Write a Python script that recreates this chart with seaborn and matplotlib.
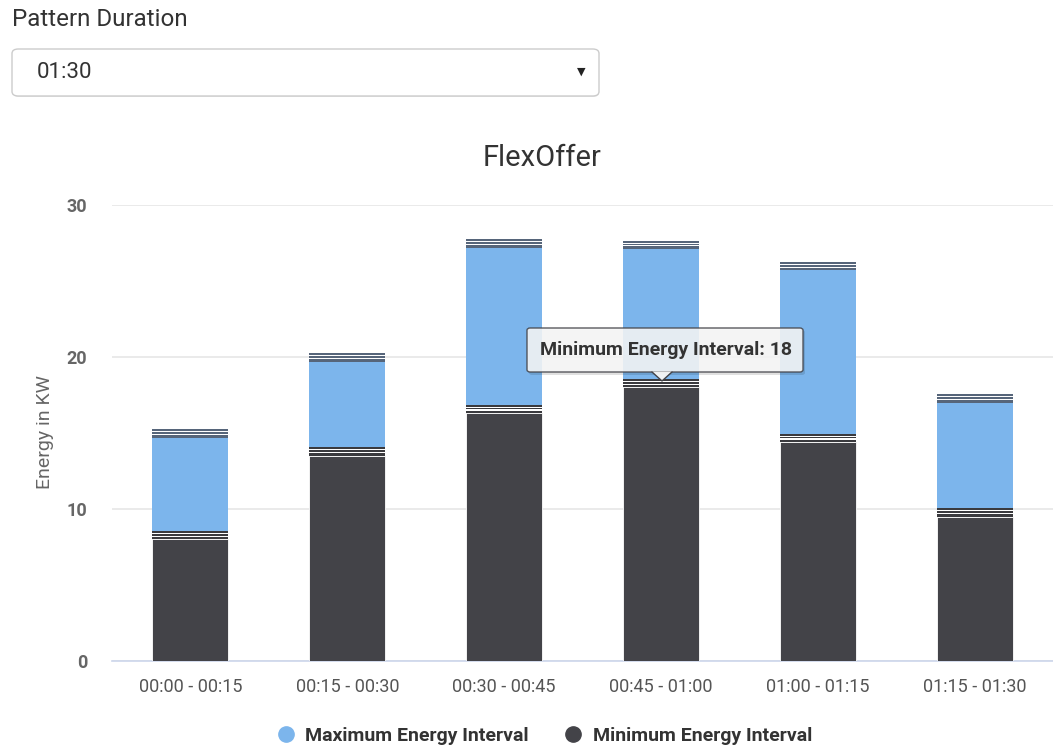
import matplotlib
matplotlib.use("Agg")
import matplotlib.pyplot as plt
import seaborn as sns
import numpy as np
import pandas as pd
from matplotlib.patches import FancyBboxPatch, Polygon
from matplotlib.lines import Line2D

# ---------------- data ----------------
categories = ["00:00 - 00:15", "00:15 - 00:30", "00:30 - 00:45",
              "00:45 - 01:00", "01:00 - 01:15", "01:15 - 01:30"]
min_energy = [8.0, 13.5, 16.3, 18.0, 14.4, 9.5]
max_energy = [14.7, 19.7, 27.2, 27.1, 25.7, 17.0]
series_names = ["Maximum Energy Interval", "Minimum Energy Interval"]
y_ticks = [0, 10, 20, 30]
title = "FlexOffer"
y_label = "Energy in KW"
selector_label = "Pattern Duration"
selector_value = "01:30"
tooltip_text = "Minimum Energy Interval: 18"

# ---------------- style ----------------
BLUE = "#7cb5ec"
DARK = "#434348"
BAND_TOP = "#56657a"
BAND_MID = "#3a3a3e"
GRID = "#e6e6e6"
AXIS = "#ccd6eb"
LABEL = "#666666"

sns.set_theme(style="white")
plt.rcParams["font.family"] = ["Roboto", "DejaVu Sans"]

W, H = 1053, 749
fig = plt.figure(figsize=(W / 100, H / 100), dpi=100)
fig.patch.set_facecolor("white")

def fx(px):
    return px / W

def fy(py):
    return 1 - py / H

ax = fig.add_axes([fx(112), fy(661), fx(1053) - fx(112), fy(205) - fy(661)])

df = pd.DataFrame({"cat": categories, "min": min_energy, "max": max_energy})
x = np.arange(len(categories))
bw = 0.485
band = 0.55

# minimum series (dark)
sns.barplot(data=df, x="cat", y="min", color=DARK, saturation=1, width=bw,
            ax=ax, edgecolor="white", linewidth=0.6, zorder=3)

def striped_band(bottoms, color):
    # thin striped band: dark / white lines
    pattern = [(0.17, color), (0.08, "white"), (0.1, color), (0.08, "white"), (0.12, color)]
    base = np.array(bottoms, dtype=float)
    for h, c in pattern:
        ax.bar(x, h, bottom=base, width=bw, color=c, linewidth=0, zorder=3)
        base = base + h

# band on top of dark
striped_band(df["min"], BAND_MID)
# blue series
lo = df["min"] + band
ax.bar(x, df["max"] - lo, bottom=lo, width=bw, color=BLUE, linewidth=0, zorder=3)
# band on top of blue
striped_band(df["max"], BAND_TOP)

ax.set_ylim(0, 30)
ax.set_xlim(-0.5, len(categories) - 0.5)
ax.set_yticks(y_ticks)
ax.set_yticklabels([str(t) for t in y_ticks], color=LABEL, fontsize=13, fontweight="bold")
ax.yaxis.grid(True, color=GRID, linewidth=1.2, zorder=0)
ax.xaxis.grid(False)
ax.set_axisbelow(True)
for s in ["top", "right", "left"]:
    ax.spines[s].set_visible(False)
ax.spines["bottom"].set_color(AXIS)
ax.spines["bottom"].set_linewidth(1.2)
ax.tick_params(axis="y", length=0, pad=18)
ax.set_xticks(x)
ax.set_xticklabels(categories, color="#555555", fontsize=13)
ax.tick_params(axis="x", length=0, pad=12)
# category boundary ticks
ax.set_xticks(np.arange(-0.5, len(categories) + 0.5, 1), minor=True)
ax.tick_params(axis="x", which="minor", length=11, color=AXIS, width=1.2)
ax.set_xlabel("")
ax.set_ylabel("")

fig.text(fx(45), fy(432), y_label, rotation=90, ha="center", va="center",
         color=LABEL, fontsize=14)
fig.text(fx(542), fy(158), title, ha="center", va="center", color="#333333", fontsize=21)

# legend
handles = [Line2D([0], [0], marker="o", linestyle="", markersize=11, markerfacecolor=BLUE,
                  markeredgecolor=BLUE),
           Line2D([0], [0], marker="o", linestyle="", markersize=11, markerfacecolor=DARK,
                  markeredgecolor=DARK)]
leg = fig.legend(handles, series_names, loc="center", bbox_to_anchor=(fx(543), fy(736)),
                 ncol=2, frameon=False, handletextpad=0.4, columnspacing=1.7,
                 handlelength=1.2, prop={"weight": "bold", "size": 14})
for t in leg.get_texts():
    t.set_color("#333333")

# top selector UI
fig.text(fx(12), fy(19), selector_label, ha="left", va="center", color="#333333", fontsize=17.4)
shadow = FancyBboxPatch((fx(13), fy(97)), fx(599) - fx(13), fy(50) - fy(97),
                        boxstyle="round,pad=0,rounding_size=0.006", transform=fig.transFigure,
                        facecolor="#e8e8e8", edgecolor="none", zorder=1)
fig.patches.append(shadow)
box = FancyBboxPatch((fx(12), fy(96)), fx(599) - fx(12), fy(49) - fy(96),
                     boxstyle="round,pad=0,rounding_size=0.006", transform=fig.transFigure,
                     facecolor="white", edgecolor="#cccccc", linewidth=1.0, zorder=2)
fig.patches.append(box)
fig.text(fx(37), fy(73), selector_value, ha="left", va="center", color="#333333", fontsize=16, zorder=3)
fig.text(fx(581), fy(72), "▼", ha="center", va="center", color="#222222", fontsize=8,
         family=["DejaVu Sans"], zorder=3)

# tooltip
tshadow = FancyBboxPatch((fx(529), fy(375)), fx(805) - fx(529), fy(330) - fy(375),
                         boxstyle="round,pad=0,rounding_size=0.003", transform=fig.transFigure,
                         facecolor="#000000", alpha=0.12, edgecolor="none", zorder=10)
fig.patches.append(tshadow)
tip = FancyBboxPatch((fx(527), fy(372)), fx(803) - fx(527), fy(328) - fy(372),
                     boxstyle="round,pad=0,rounding_size=0.003", transform=fig.transFigure,
                     facecolor="#f7f7f7", alpha=0.88, edgecolor="#434348", linewidth=1.0, zorder=11)
fig.patches.append(tip)
tri = Polygon([(fx(652), fy(371.5)), (fx(672), fy(371.5)), (fx(662), fy(381))], closed=True,
              transform=fig.transFigure, facecolor="#f7f7f7", edgecolor="none", alpha=0.95, zorder=12)
fig.patches.append(tri)
fig.lines.append(Line2D([fx(652), fx(662), fx(672)], [fy(372), fy(381), fy(372)],
                        transform=fig.transFigure, color="#434348", linewidth=1.0, zorder=13))
fig.text(fx(540), fy(350), tooltip_text, ha="left", va="center", color="#333333",
         fontsize=14, fontweight="bold", zorder=14)

fig.savefig("out.png", dpi=100, facecolor="white")
